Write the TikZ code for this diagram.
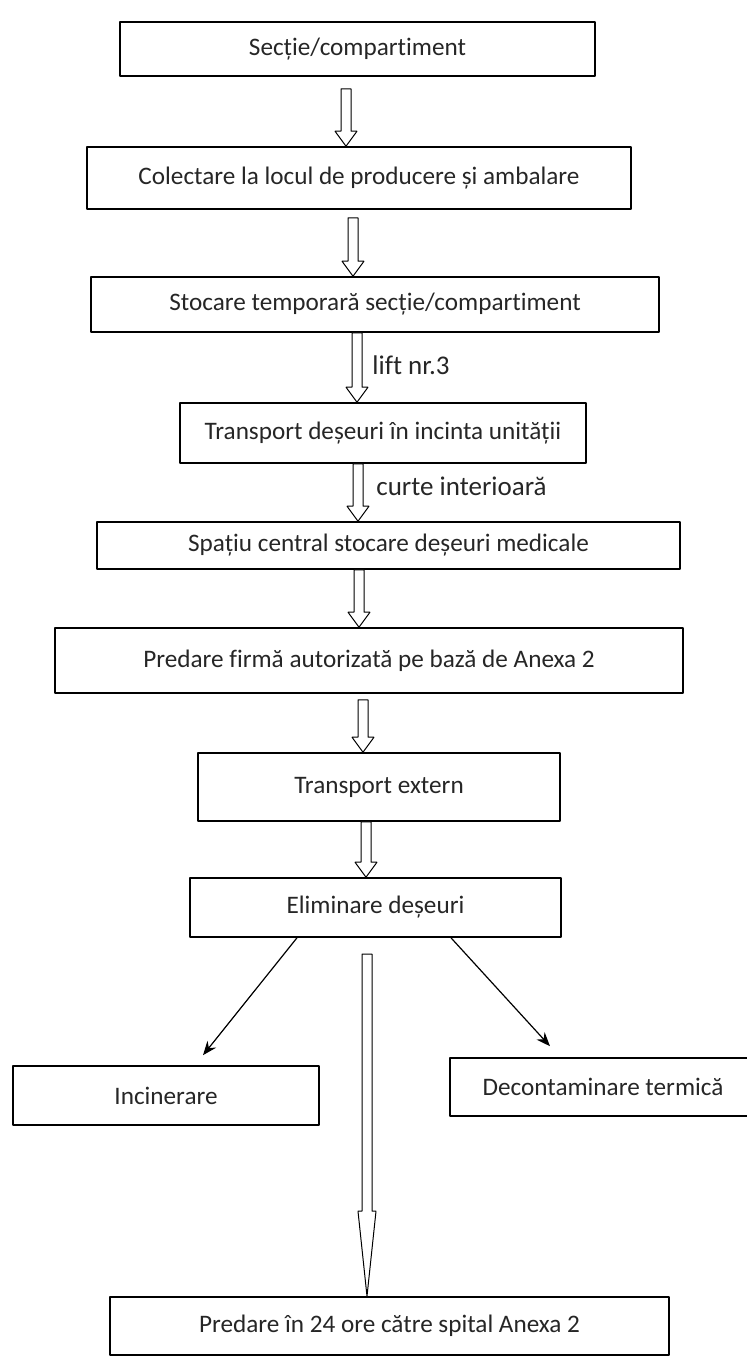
\documentclass[tikz,border=0pt]{standalone}
\usepackage{fontspec}
\setmainfont{Carlito}[Ligatures={NoCommon}, RawFeature={-liga;-clig;-calt;-dlig}]
\usepackage{tikz}
\usetikzlibrary{arrows.meta}
\usetikzlibrary{calc}
\newcommand{\flowfont}{\fontsize{12.6}{15}\selectfont}
\newcommand{\notefont}{\fontsize{13.5}{16}\selectfont}
\tikzset{
  stepbox/.style={draw, rectangle, line width=0.8pt, inner sep=0pt, text=black!85, font=\flowfont},
  note/.style={inner sep=0pt, anchor=west, text=black!85, font=\notefont},
  hollow/.style 2 args={draw, line width=0.5pt, fill=white,
    to path={let \p1=(\tikztostart), \p2=(\tikztotarget) in
      (\x1-2.5pt,\y1) -- (\x1-2.5pt,\y2+#2) -- (\x1-#1,\y2+#2) -- (\x1,\y2)
      -- (\x1+#1,\y2+#2) -- (\x1+2.5pt,\y2+#2) -- (\x1+2.5pt,\y1) -- cycle}},
  branch/.style={draw, line width=0.6pt, -{Stealth[length=7pt,width=5.5pt]}},
}

\begin{document}
\begin{tikzpicture}[line join=bevel, x=0.5pt, y=-0.5pt]
\useasboundingbox (0,0) rectangle (747,1357);
\clip (0,0) rectangle (747,1357);
%%
  \node (sectie) at (357.5,49) [stepbox, minimum width=237.5pt, minimum height=27pt] {Secție/compartiment};
  \node (colectare) at (359,178) [stepbox, minimum width=272pt, minimum height=31pt] {Colectare la locul de producere și ambalare};
  \node (stocare) at (375,304.5) [stepbox, minimum width=284pt, minimum height=27.5pt] {Stocare temporară secție/compartiment};
  \node (transport) at (383,433) [stepbox, minimum width=203pt, minimum height=30pt] {Transport deșeuri în incinta unității};
  \node (spatiu) at (388.5,545.5) [stepbox, minimum width=291.5pt, minimum height=23.5pt] {Spațiu central stocare deșeuri medicale};
  \node (predare) at (369,660.5) [stepbox, minimum width=314pt, minimum height=32.5pt] {Predare firmă autorizată pe bază de Anexa 2};
  \node (extern) at (379,787) [stepbox, minimum width=181pt, minimum height=34pt] {Transport extern};
  \node (eliminare) at (375.5,907.5) [stepbox, minimum width=185.5pt, minimum height=29.5pt] {Eliminare deșeuri};
  \node (incinerare) at (166,1095.5) [stepbox, minimum width=153pt, minimum height=29.5pt] {Incinerare};
  \node (decont) at (603,1087) [stepbox, minimum width=153pt, minimum height=29pt] {Decontaminare termică};
  \node (spital) at (389.5,1326) [stepbox, minimum width=279.5pt, minimum height=29pt] {Predare în 24 ore către spital Anexa 2};
%%
  \draw [hollow={5.5pt}{7.5pt}] ([xshift=-5.75pt,yshift=-6pt]sectie.south) to ([xshift=-5.75pt]sectie.south |- colectare.north);
  \draw [hollow={5.5pt}{7.5pt}] ([xshift=-3pt,yshift=-4pt]colectare.south) to ([xshift=-3pt]colectare.south |- stocare.north);
  \draw [hollow={5.5pt}{7.5pt}] ([xshift=-9pt]stocare.south) to ([xshift=-9pt]stocare.south |- transport.north);
  \node (lift) at (372,365) [note] {lift nr.3};
  \draw [hollow={5.5pt}{7.5pt}] ([xshift=-12.5pt]transport.south) to ([xshift=-12.5pt]transport.south |- spatiu.north);
  \node (curte) at (376,486) [note] {curte interioară};
  \draw [hollow={5.5pt}{7.5pt}] ([xshift=-14.75pt]spatiu.south) to ([xshift=-14.75pt]spatiu.south |- predare.north);
  \draw [hollow={5.5pt}{7.5pt}] ([xshift=-3pt,yshift=-3pt]predare.south) to ([xshift=-3pt]predare.south |- extern.north);
  \draw [hollow={5.5pt}{7.5pt}] ([xshift=-6.5pt]extern.south) to ([xshift=-6.5pt]extern.south |- eliminare.north);
%
  \draw [branch] ([xshift=-39.25pt]eliminare.south) -- ([xshift=18.5pt,yshift=5pt]incinerare.north);
  \draw [branch] ([xshift=37.75pt]eliminare.south) -- ([xshift=-26.5pt,yshift=5.5pt]decont.north);
  \coordinate (drop) at (367,954);
  \draw [hollow={4.5pt}{42.5pt}] (drop) to (drop |- spital.north);
%
\end{tikzpicture}
\end{document}
